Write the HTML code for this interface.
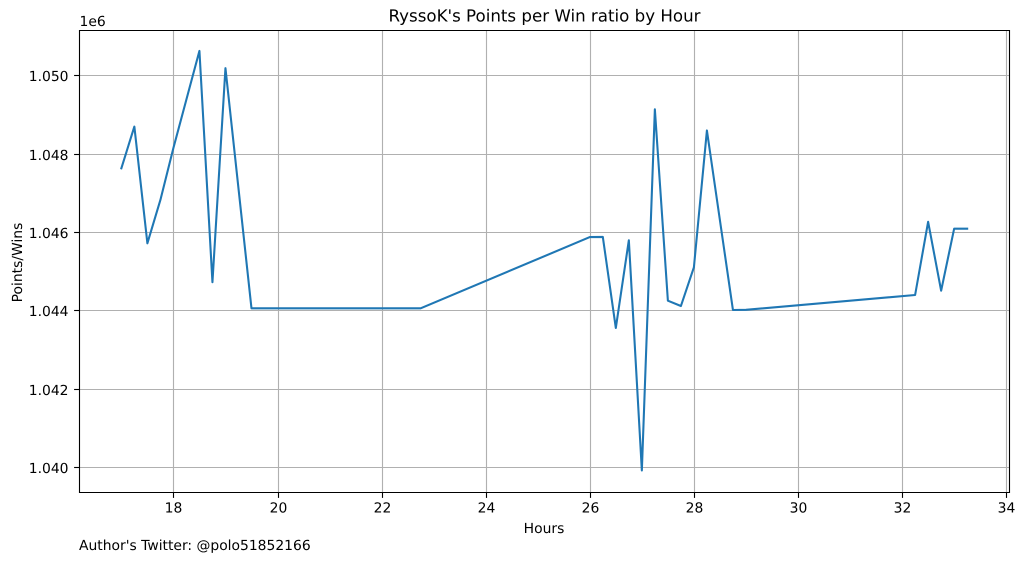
<!DOCTYPE html>
<html lang="en">
<head>
<meta charset="utf-8">
<title>RyssoK's Points per Win ratio by Hour</title>
<style>
html,body{margin:0;padding:0;background:#fff;width:1024px;height:562px;overflow:hidden}
svg{display:block}
text{font-family:"DejaVu Sans",sans-serif;font-size:13.89px;fill:#000;text-rendering:geometricPrecision}
</style>
</head>
<body>
<svg id="chart" xmlns="http://www.w3.org/2000/svg" width="1024" height="562" viewBox="0 0 1024 562">
  <rect x="0" y="0" width="1024" height="562" fill="#ffffff"/>
  <g id="grid"></g>
  <path id="line" fill="none" stroke="#1f77b4" stroke-width="2.08" stroke-linejoin="round" stroke-linecap="square"/>
  <g id="ticks"></g>
  <g stroke="#000" stroke-width="1.11" fill="none">
    <line x1="79.5" y1="30" x2="79.5" y2="493"/>
    <line x1="1009.5" y1="30" x2="1009.5" y2="493"/>
    <line x1="79" y1="30.5" x2="1010" y2="30.5"/>
    <line x1="79" y1="492.5" x2="1010" y2="492.5"/>
  </g>
  <text x="544.5" y="21.5" text-anchor="middle" style="font-size:16.67px">RyssoK's Points per Win ratio by Hour</text>
  <text x="79.5" y="26">1e6</text>
  <text x="544" y="533" text-anchor="middle">Hours</text>
  <text x="0" y="0" text-anchor="middle" transform="translate(22 262.5) rotate(-90)">Points/Wins</text>
  <text x="79" y="550">Author's Twitter: @polo51852166</text>
</svg>
<script>
const hours = [17, 17.25, 17.5, 17.75, 18, 18.5, 18.75, 19, 19.5, 22.75, 26, 26.25, 26.5, 26.75, 27, 27.25, 27.5, 27.75, 28, 28.25, 28.75, 29, 32.25, 32.5, 32.75, 33, 33.25];
const pointsPerWin = [1047635, 1048700, 1045722, 1046827, 1048153, 1050630, 1044730, 1050190, 1044064, 1044064, 1045880, 1045885, 1043561, 1045800, 1039926, 1049140, 1044258, 1044122, 1045110, 1048600, 1044020, 1044025, 1044403, 1046270, 1044513, 1046095, 1046095];
const xTickValues = [18, 20, 22, 24, 26, 28, 30, 32, 34];
const yTickValues = [1040000, 1042000, 1044000, 1046000, 1048000, 1050000];
const yTickLabels = ['1.040', '1.042', '1.044', '1.046', '1.048', '1.050'];

const SVG_NS = 'http://www.w3.org/2000/svg';
function xScale(v) { return 173.4 + (v - 18) * 52.05; }
function yScale(v) { return 467.6 - (v - 1040000) * 0.0392; }
function snapX(p) { return Math.round(p) + 0.5; }
function snapY(p) { return Math.floor(p) + 0.5; }
function makeLine(parent, x1, y1, x2, y2, color) {
  const el = document.createElementNS(SVG_NS, 'line');
  el.setAttribute('x1', x1);
  el.setAttribute('y1', y1);
  el.setAttribute('x2', x2);
  el.setAttribute('y2', y2);
  el.setAttribute('stroke', color);
  el.setAttribute('stroke-width', '1.11');
  parent.appendChild(el);
  return el;
}
function makeText(parent, x, y, anchor, content) {
  const el = document.createElementNS(SVG_NS, 'text');
  el.setAttribute('x', x);
  el.setAttribute('y', y);
  el.setAttribute('text-anchor', anchor);
  el.textContent = content;
  parent.appendChild(el);
  return el;
}

const gridGroup = document.getElementById('grid');
const tickGroup = document.getElementById('ticks');

xTickValues.forEach(function (v) {
  const px = snapX(xScale(v));
  const gridLine = makeLine(gridGroup, px, 31, px, 492, '#b0b0b0');
  
  
  const tick = makeLine(tickGroup, px, 493, px, 497.9, '#000');
  
  
  const label = makeText(tickGroup, px, 512.5, 'middle', String(v));
  
  
});

yTickValues.forEach(function (v, i) {
  const py = snapY(yScale(v));
  const gridLine = makeLine(gridGroup, 80, py, 1009, py, '#b0b0b0');
  
  
  const tick = makeLine(tickGroup, 74.1, py, 79, py, '#000');
  
  
  const label = makeText(tickGroup, 68.5, py + 5.3, 'end', yTickLabels[i]);
  
  
});

const pathData = hours.map(function (h, i) {
  return (i === 0 ? 'M' : 'L') + xScale(h).toFixed(2) + ' ' + yScale(pointsPerWin[i]).toFixed(2);
}).join(' ');
document.getElementById('line').setAttribute('d', pathData);
</script>
</body>
</html>
